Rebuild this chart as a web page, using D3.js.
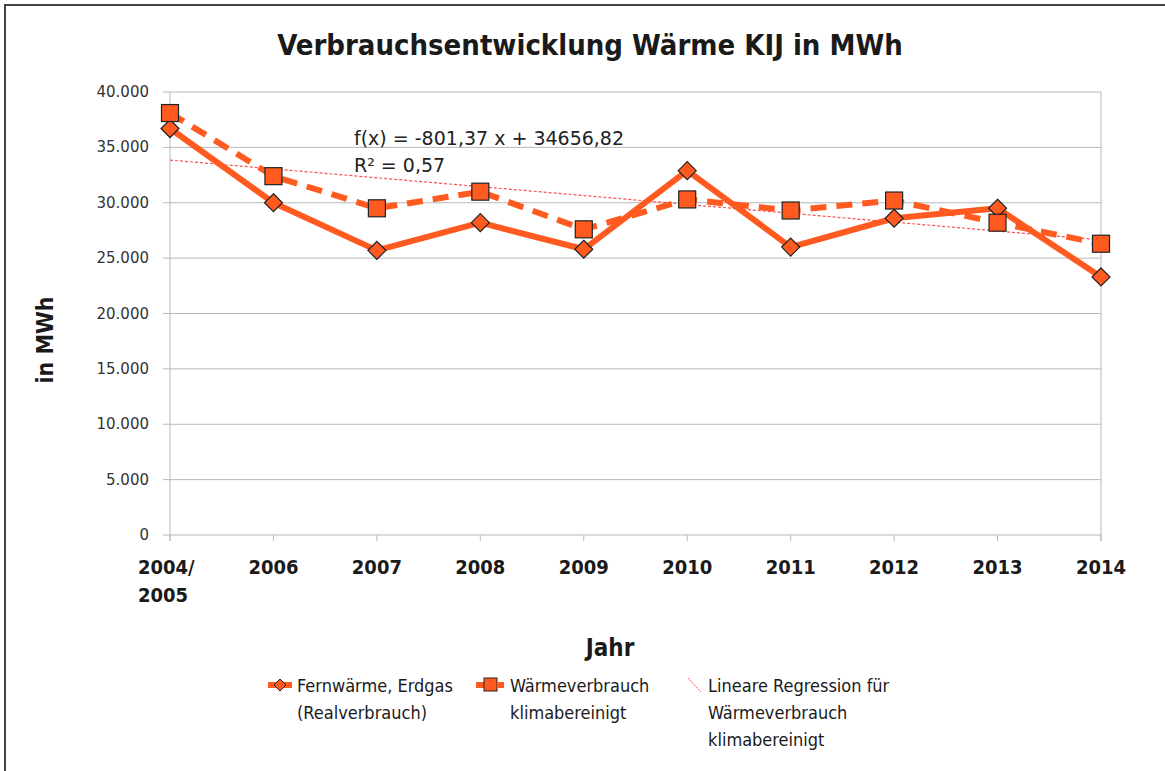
<!DOCTYPE html>
<html><head>
<meta charset="utf-8">
<title>Verbrauchsentwicklung Wärme KIJ</title>
<script src="https://d3js.org/d3.v7.min.js"></script>
<style>
  body { margin: 0; background: #fff; }
  svg text { fill: #1a1a1a; }
</style>
</head>
<body>
<svg id="chart" width="1165" height="771"></svg>
<script>
// data
const years = ["2004/2005", "2006", "2007", "2008", "2009", "2010", "2011", "2012", "2013", "2014"];
const realverbrauch = [36700, 30000, 25700, 28200, 25800, 32900, 26000, 28600, 29500, 23300];
const klimabereinigt = [38100, 32400, 29500, 31000, 27600, 30300, 29300, 30200, 28200, 26300];
const yTicks = [0, 5000, 10000, 15000, 20000, 25000, 30000, 35000, 40000];
// regression from the chart label: f(x) = -801,37x + 34656,82
const slope = -801.37, intercept = 34656.82;

const orange = "#ff5a1f";
const svg = d3.select("#chart");

// frame
svg.append("path")
  .attr("d", "M5,771 V5 H1165")
  .style("fill", "none").style("stroke", "#444").style("stroke-width", 2);

const plotLeft = 170, plotRight = 1101, plotTop = 92, plotBottom = 535;
let x = d3.scalePoint().domain(years).range([plotLeft, plotRight]);
let y = d3.scaleLinear().domain([0, 40000]).range([plotBottom, plotTop]);

// gridlines
svg.append("g").selectAll("line").data(yTicks).join("line")
  .attr("x1", plotLeft - 7).attr("x2", plotRight)
  .attr("y1", d => y(d)).attr("y2", d => y(d))
  .style("stroke", "#b8b8b8").style("stroke-width", 1);
svg.append("line").attr("x1", plotLeft).attr("x2", plotLeft).attr("y1", plotTop).attr("y2", plotBottom + 6)
  .style("stroke", "#b8b8b8");
svg.append("line").attr("x1", plotRight).attr("x2", plotRight).attr("y1", plotTop).attr("y2", plotBottom + 6)
  .style("stroke", "#b8b8b8");
svg.append("g").selectAll("line").data(years).join("line")
  .attr("x1", d => x(d)).attr("x2", d => x(d))
  .attr("y1", plotBottom).attr("y2", plotBottom + 6)
  .style("stroke", "#b8b8b8");

// y tick labels
const fmt = d3.formatLocale({decimal: ",", thousands: ".", grouping: [3], currency: ["", ""]}).format(",");
svg.append("g").selectAll("text").data(yTicks).join("text")
  .attr("x", plotLeft - 21).attr("y", d => y(d) + 5)
  .attr("text-anchor", "end")
  .style("font-family", "'DejaVu Sans', sans-serif")
  .style("font-size", "15px").style("fill", "#333")
  .text(d => fmt(d));

// x tick labels
years.forEach(function(d) {
  let t = svg.append("text")
    .style("font-family", "'DejaVu Sans Condensed', sans-serif")
    .style("font-size", "20px").style("font-weight", "bold");
  if (d.indexOf("/") > 0) {
    let parts = d.split("/");
    t.attr("x", x(d) - 32).attr("y", 574).attr("text-anchor", "start");
    t.append("tspan").attr("x", x(d) - 32).attr("dy", 0).text(parts[0] + "/");
    t.append("tspan").attr("x", x(d) - 32).attr("dy", 28).text(parts[1]);
  } else {
    t.attr("x", x(d)).attr("y", 574).attr("text-anchor", "middle").text(d);
  }
});

// regression line
svg.append("line")
  .attr("x1", x(years[0])).attr("y1", y(slope * 1 + intercept))
  .attr("x2", x(years[years.length - 1])).attr("y2", y(slope * years.length + intercept))
  .style("stroke", "#ff5050").style("stroke-width", 1.2).style("stroke-dasharray", "3,2");

let line = d3.line().x((d, i) => x(years[i])).y(d => y(d));

svg.append("path").datum(klimabereinigt).attr("d", line)
  .style("fill", "none").style("stroke", orange).style("stroke-width", 6)
  .style("stroke-dasharray", "16,10");
svg.append("path").datum(realverbrauch).attr("d", line)
  .style("fill", "none").style("stroke", orange).style("stroke-width", 6)
  .style("stroke-linejoin", "round");

// markers
svg.append("g").selectAll("path").data(realverbrauch).join("path")
  .attr("d", (d, i) => {
    let cx = x(years[i]), cy = y(d), r = 9;
    return `M${cx},${cy - r}L${cx + r},${cy}L${cx},${cy + r}L${cx - r},${cy}Z`;
  })
  .style("fill", orange).style("stroke", "#222").style("stroke-width", 1.2);
svg.append("g").selectAll("rect").data(klimabereinigt).join("rect")
  .attr("x", (d, i) => x(years[i]) - 8.5).attr("y", d => y(d) - 8.5)
  .attr("width", 17).attr("height", 17)
  .style("fill", orange).style("stroke", "#222").style("stroke-width", 1.2);

// regression label
const lbl = svg.append("text")
  .style("font-family", "'DejaVu Sans', sans-serif").style("font-size", "19px").style("fill", "#222");
lbl.append("tspan").attr("x", 354).attr("y", 145).text("f(x) = -801,37 x + 34656,82");
lbl.append("tspan").attr("x", 354).attr("y", 172).text("R² = 0,57");

// title and axis titles
svg.append("text").attr("x", 590).attr("y", 55).attr("text-anchor", "middle")
  .style("font-family", "'DejaVu Sans Condensed', sans-serif")
  .style("font-size", "29px").style("font-weight", "bold")
  .text("Verbrauchsentwicklung Wärme KIJ in MWh");
svg.append("text").attr("transform", "translate(53,340) rotate(-90)").attr("text-anchor", "middle")
  .style("font-family", "'DejaVu Sans Condensed', sans-serif")
  .style("font-size", "23px").style("font-weight", "bold")
  .text("in MWh");
svg.append("text").attr("x", 610).attr("y", 656).attr("text-anchor", "middle")
  .style("font-family", "'DejaVu Sans Condensed', sans-serif")
  .style("font-size", "24px").style("font-weight", "bold")
  .text("Jahr");

// legend
const legendFont = "'DejaVu Sans Condensed', sans-serif";
function legendText(x0, lines) {
  let t = svg.append("text").style("font-family", legendFont).style("font-size", "18px");
  lines.forEach(function(s, i) {
    t.append("tspan").attr("x", x0).attr("y", 692 + i * 27).text(s);
  });
}
// item 1
svg.append("line").attr("x1", 268).attr("x2", 292).attr("y1", 685).attr("y2", 685)
  .style("stroke", orange).style("stroke-width", 6);
svg.append("path").attr("d", "M280,679L286,685L280,691L274,685Z")
  .style("fill", orange).style("stroke", "#222");
legendText(297, ["Fernwärme, Erdgas", "(Realverbrauch)"]);
// item 2
svg.append("line").attr("x1", 476).attr("x2", 504).attr("y1", 685).attr("y2", 685)
  .style("stroke", orange).style("stroke-width", 6).style("stroke-dasharray", "8,3");
svg.append("rect").attr("x", 484).attr("y", 678).attr("width", 13).attr("height", 13)
  .style("fill", orange).style("stroke", "#222");
legendText(510, ["Wärmeverbrauch", "klimabereinigt"]);
// item 3
svg.append("line").attr("x1", 688).attr("x2", 701).attr("y1", 678).attr("y2", 692)
  .style("stroke", "#ff5050").style("stroke-width", 1).style("stroke-dasharray", "2,1");
legendText(708, ["Lineare Regression für", "Wärmeverbrauch", "klimabereinigt"]);
</script>
</body>
</html>
